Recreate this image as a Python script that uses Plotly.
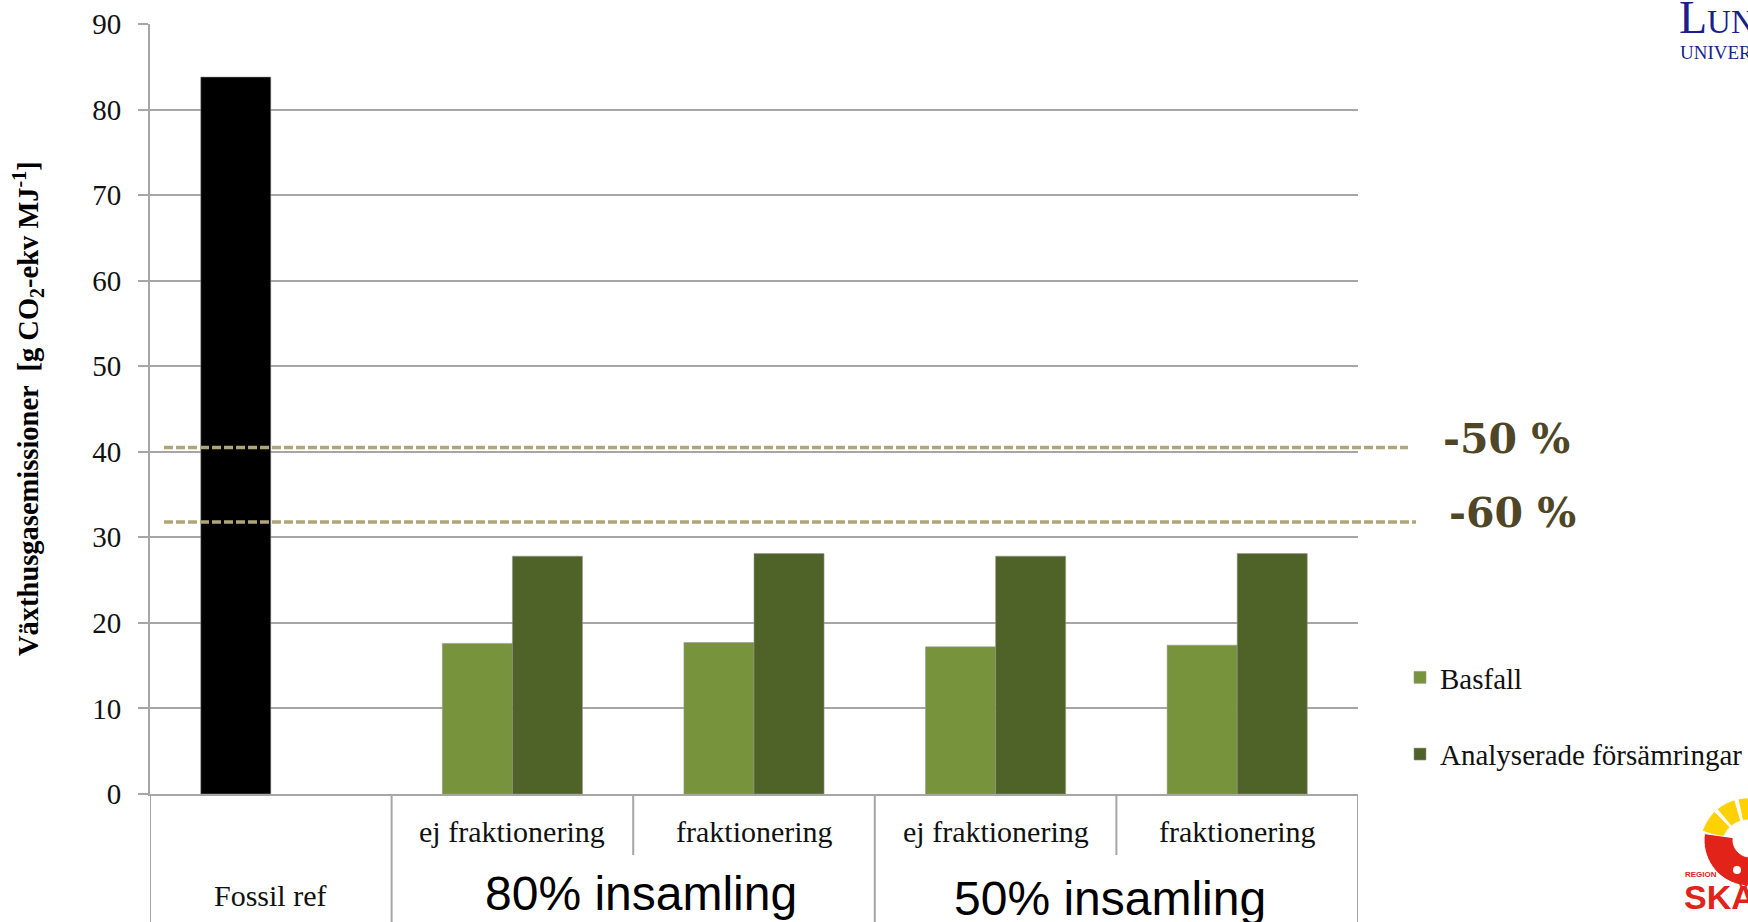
import math
import plotly.graph_objects as go

# Categories along the x axis (left to right)
categories = ["Fossil ref", "ej fraktionering", "fraktionering", "ej fraktionering", "fraktionering"]
collection_groups = ["80% insamling", "50% insamling"]
y_ticks = [0, 10, 20, 30, 40, 50, 60, 70, 80, 90]

# Greenhouse gas emissions, g CO2-eq per MJ
fossil_ref = [83.8]
basfall = [17.6, 17.7, 17.2, 17.4]
forsamringar = [27.8, 28.1, 27.8, 28.1]

# Reduction target levels relative to the fossil reference
target_levels = [40.5, 31.8]
target_labels = ["-50 %", "-60 %"]

W, H = 1748, 922
PL, PR, PT, PB = 150, 1358, 24, 794   # plot area in pixels

SERIF = "Times New Roman, Liberation Serif, serif"
SANS = "Arial, Liberation Sans, sans-serif"
GRID = "#A6A6A6"
TXT = "#111111"


def fx(px):
    return (px - PL) / (PR - PL)


def fy(py):
    return (PB - py) / (PB - PT)


def sector(cx, cy, r0, r1, a0, a1, n=24):
    """Annular sector path in paper coordinates (angles in degrees, y up)."""
    pts = []
    for i in range(n + 1):
        a = math.radians(a0 + (a1 - a0) * i / n)
        pts.append((cx + r1 * math.cos(a), cy - r1 * math.sin(a)))
    for i in range(n + 1):
        a = math.radians(a1 - (a1 - a0) * i / n)
        pts.append((cx + r0 * math.cos(a), cy - r0 * math.sin(a)))
    d = "M " + " L ".join(f"{fx(x):.5f},{fy(y):.5f}" for x, y in pts) + " Z"
    return d


fig = go.Figure()

bar_line = dict(width=1, color="rgba(150,150,150,0.55)")
fig.add_bar(x=[0], y=fossil_ref, name="Fossil ref", marker=dict(color="black", line=bar_line),
            offsetgroup="base", showlegend=False)
fig.add_bar(x=[1, 2, 3, 4], y=basfall, name="Basfall", marker=dict(color="#77933C", line=bar_line),
            offsetgroup="base", legendgroup="a")
fig.add_bar(x=[1, 2, 3, 4], y=forsamringar, name="Analyserade försämringar",
            marker=dict(color="#4F6228", line=bar_line), offsetgroup="worse", legendgroup="b")

shapes = []
# dividers of the category table below the axis
n = len(categories)
for i in range(n + 1):
    xv = i - 0.5
    long_line = i in (0, 1, 3, 5)
    shapes.append(dict(type="line", xref="x", yref="paper", x0=xv, x1=xv,
                       y0=0, y1=fy(H + 2) if long_line else fy(855),
                       line=dict(color=GRID, width=2), layer="below"))

# reduction target lines
line_ends = [1408, 1416]
for lvl, xe in zip(target_levels, line_ends):
    shapes.append(dict(type="line", xref="paper", yref="y", x0=fx(164), x1=fx(xe), y0=lvl, y1=lvl,
                       line=dict(color="#B0A577", width=3.5, dash="9px,3px"), layer="above"))

# Region Skåne emblem
for a0, a1 in [(134, 162), (106, 130), (80, 102)]:
    shapes.append(dict(type="path", xref="paper", yref="paper", path=sector(1748, 846, 26, 48, a0, a1),
                       fillcolor="#FFD100", line=dict(color="white", width=1)))
shapes.append(dict(type="path", xref="paper", yref="paper", path=sector(1750, 840, 17, 46, 172, 300),
                   fillcolor="#E2231A", line=dict(color="white", width=1)))
shapes.append(dict(type="circle", xref="paper", yref="paper", x0=fx(1733), x1=fx(1741),
                   y0=fy(874), y1=fy(866), fillcolor="white", line=dict(width=0)))

annotations = []
# category labels
for i, cat in enumerate(categories):
    ypx = 895 if i == 0 else 832
    annotations.append(dict(x=i, y=fy(ypx), xref="x", yref="paper", text=cat, showarrow=False,
                            xanchor="center", yanchor="middle", font=dict(family=SERIF, size=30, color=TXT)))
for j, grp in enumerate(collection_groups):
    ypx = 893 if j == 0 else 898
    annotations.append(dict(x=1.5 + 2 * j, y=fy(ypx), xref="x", yref="paper", text=grp, showarrow=False,
                            xanchor="center", yanchor="middle", xshift=8 if j == 0 else -6,
                            font=dict(family=SANS, size=48, color="black")))

# target labels
for lvl, lab, xl in zip(target_levels, target_labels, [1441, 1447]):
    annotations.append(dict(x=fx(xl), y=lvl, xref="paper", yref="y", text=f"<b>{lab}</b>", showarrow=False,
                            xanchor="left", yanchor="middle", yshift=9,
                            font=dict(family="Georgia, DejaVu Serif, serif", size=41, color="#4F4627")))

# y axis title
annotations.append(dict(x=fx(28), y=0.5, xref="paper", yref="paper", textangle=-90, showarrow=False,
                        text="<b>Växthusgasemissioner  [g CO<sub>2</sub>-ekv MJ<sup>-1</sup>]</b>",
                        xanchor="center", yanchor="middle", font=dict(family=SERIF, size=28.5, color="black")))

# Lund University mark
LU = "#1A1F8A"
annotations.append(dict(x=fx(1677), y=fy(17), xref="paper", yref="paper",
                        text="L<span style='font-size:33px'>UND</span>", showarrow=False,
                        xanchor="left", yanchor="middle", font=dict(family=SERIF, size=46, color=LU)))
annotations.append(dict(x=fx(1678), y=fy(52), xref="paper", yref="paper", text="UNIVERSITY", showarrow=False,
                        xanchor="left", yanchor="middle", font=dict(family=SERIF, size=19, color=LU)))

# Region Skåne wordmark
annotations.append(dict(x=fx(1683), y=fy(874), xref="paper", yref="paper", text="<b>REGION</b>", showarrow=False,
                        xanchor="left", yanchor="middle", font=dict(family=SANS, size=8, color="#E2231A")))
annotations.append(dict(x=fx(1682), y=fy(897), xref="paper", yref="paper", text="<b>SKÅNE</b>", showarrow=False,
                        xanchor="left", yanchor="middle", font=dict(family=SANS, size=34, color="#E2231A")))

fig.update_layout(
    width=W, height=H,
    margin=dict(l=PL, r=W - PR, t=PT, b=H - PB, pad=0, autoexpand=False),
    paper_bgcolor="white", plot_bgcolor="white",
    barmode="group", bargap=0.42, bargroupgap=0,
    shapes=shapes, annotations=annotations,
    legend=dict(x=fx(1400), y=fy(652), xanchor="left", yanchor="top", traceorder="grouped",
                tracegroupgap=36, bgcolor="rgba(0,0,0,0)",
                font=dict(family=SERIF, size=29, color=TXT)),
    xaxis=dict(range=[-0.5, n - 0.5], showticklabels=False, showgrid=False, zeroline=False,
               showline=True, linecolor=GRID, linewidth=2, ticks=""),
    yaxis=dict(range=[0, 90], tickvals=y_ticks, showgrid=True, gridcolor=GRID, gridwidth=2,
               zeroline=False, showline=True, linecolor=GRID, linewidth=2,
               ticks="outside", ticklen=10, tickwidth=2, tickcolor=GRID, ticklabelstandoff=11,
               tickfont=dict(family=SERIF, size=29, color=TXT)),
)

fig.write_html("out.html")
